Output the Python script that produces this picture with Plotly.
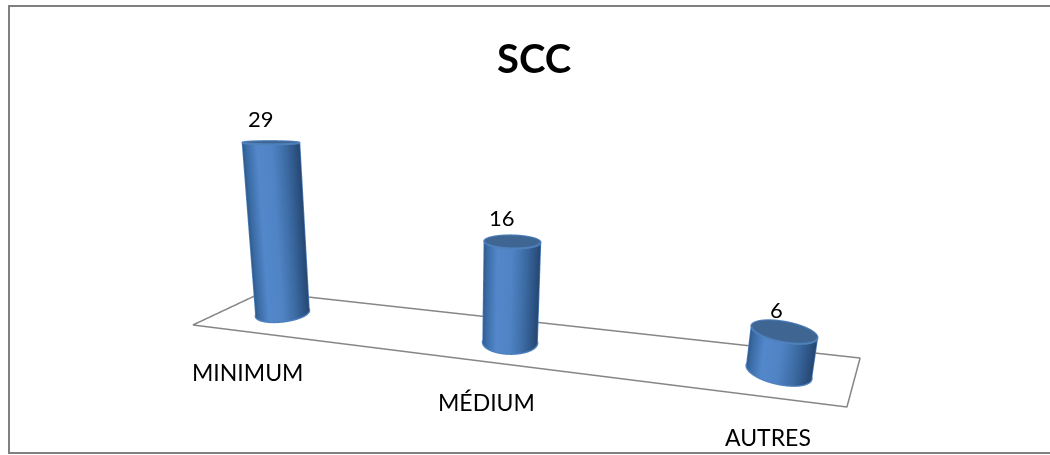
import numpy as np
import plotly.graph_objects as go

categories = ["MINIMUM", "MÉDIUM", "AUTRES"]
values = [29, 16, 6]

# Where each cylinder stands on the floor plane, and its radius, in scene units
cat_x = [-0.8116, -0.0175, 0.7544]
cat_y = [0.1218, -0.0979, -0.2741]
RADIUS = 0.085

# Floor outline, closed back on its first corner
floor_x = [-1.053, 0.837, 1.055, -0.975, -1.053]
floor_y = [0.000, -0.468, -0.178, 0.339, 0.000]

W, H = 1050, 455
ZMAX = 30.0
EYE = dict(x=-0.0311, y=-1.7158, z=0.4050)
CENTER = dict(x=0.0253, y=0.0933, z=0.0246)
UP = dict(x=-0.0155, y=0.4620, z=1.0)
Z_ASPECT = 0.6092

RIM = "#4f81bd"
CAP = "#3f6692"
FLOOR = "#868686"
FRAME = "#808080"
# Side shading runs from the cylinder's left silhouette to its right one
SIDE = [[0, "#2f5a8c"], [.06, "#3a6aa3"], [.25, "#5288cb"], [.5, "#4f83c4"],
        [.7, "#3f6fa8"], [.88, "#2f5789"], [1, "#26466f"]]
NOLIGHT = dict(ambient=1, diffuse=0, specular=0, fresnel=0, roughness=1)

fig = go.Figure()
fig.add_trace(go.Scatter3d(x=floor_x, y=floor_y, z=[0] * len(floor_x), mode="lines",
                           line=dict(color=FLOOR, width=3), hoverinfo="skip"))

th = np.linspace(0, 2 * np.pi, 145)
one = np.ones_like(th)
for cx, cy, v in zip(cat_x, cat_y, values):
    to_eye = np.array([EYE["x"] - cx, EYE["y"] - cy])
    to_eye /= np.linalg.norm(to_eye)
    right = np.array([-to_eye[1], to_eye[0]])
    ringx = cx + RADIUS * np.cos(th)
    ringy = cy + RADIUS * np.sin(th)
    shade = (np.cos(th) * right[0] + np.sin(th) * right[1] + 1) / 2

    # Curved side
    fig.add_trace(go.Surface(x=np.outer(ringx, [1, 1]), y=np.outer(ringy, [1, 1]),
                             z=np.outer(one, [0, v]), surfacecolor=np.outer(shade, [1, 1]),
                             cmin=0, cmax=1, colorscale=SIDE, showscale=False,
                             lighting=NOLIGHT, hoverinfo="skip"))
    # Top cap, a disc from the ring to the axis
    fig.add_trace(go.Surface(x=np.outer(ringx, [1, 0]) + cx * np.outer(one, [0, 1]),
                             y=np.outer(ringy, [1, 0]) + cy * np.outer(one, [0, 1]),
                             z=np.full((len(th), 2), v), surfacecolor=np.zeros((len(th), 2)),
                             cmin=0, cmax=1, colorscale=[[0, CAP], [1, CAP]], showscale=False,
                             lighting=NOLIGHT, hoverinfo="skip"))
    # Bevelled rims and silhouette edges
    fig.add_trace(go.Scatter3d(x=ringx, y=ringy, z=[v] * len(th), mode="lines",
                               line=dict(color=RIM, width=4), hoverinfo="skip"))
    fig.add_trace(go.Scatter3d(x=ringx, y=ringy, z=[0] * len(th), mode="lines",
                               line=dict(color=RIM, width=5), hoverinfo="skip"))
    for sign in (-1, 1):
        ex, ey = cx + sign * RADIUS * right[0], cy + sign * RADIUS * right[1]
        fig.add_trace(go.Scatter3d(x=[ex, ex], y=[ey, ey], z=[0, v], mode="lines",
                                   line=dict(color=RIM, width=3), hoverinfo="skip"))

VALUE_FONT = dict(family="Lato", size=22, color="#000000")
CAT_FONT = dict(family="Lato", size=23, color="#000000")
value_shift = [(-11, 24), (-10, 24), (-7, 22)]
value_notes = [dict(x=cx, y=cy, z=v, text=str(v), showarrow=False, xshift=dx, yshift=dy, font=VALUE_FONT)
               for cx, cy, v, (dx, dy) in zip(cat_x, cat_y, values, value_shift)]

fig.update_layout(
    width=W, height=H, margin=dict(l=0, r=0, t=0, b=0), showlegend=False, paper_bgcolor="#ffffff",
    scene=dict(domain=dict(x=[0, 1], y=[0, 1]), bgcolor="rgba(0,0,0,0)",
               xaxis=dict(visible=False, range=[-2, 2]),
               yaxis=dict(visible=False, range=[-2, 2]),
               zaxis=dict(visible=False, range=[0, ZMAX]),
               aspectmode="manual", aspectratio=dict(x=4, y=4, z=Z_ASPECT),
               annotations=value_notes,
               camera=dict(eye=EYE, center=CENTER, up=UP, projection=dict(type="perspective"))))


def at_pixel(x, y):
    return dict(x=x / W, y=1 - y / H, xref="paper", yref="paper", showarrow=False,
                xanchor="center", yanchor="middle")


fig.add_annotation(**at_pixel(534, 58), text="<b>SCC</b>", font=dict(family="Lato", size=40, color="#000000"))
for name, px in zip(categories, [(247, 372), (486, 402), (768, 437)]):
    fig.add_annotation(**at_pixel(*px), text=name, font=CAT_FONT)

# Chart frame; its right side runs past the page edge
fig.add_shape(type="rect", xref="paper", yref="paper", x0=9 / W, x1=1.2, y0=1 - 453 / H, y1=1 - 6 / H,
              line=dict(color=FRAME, width=2))
fig.write_html("out.html")
